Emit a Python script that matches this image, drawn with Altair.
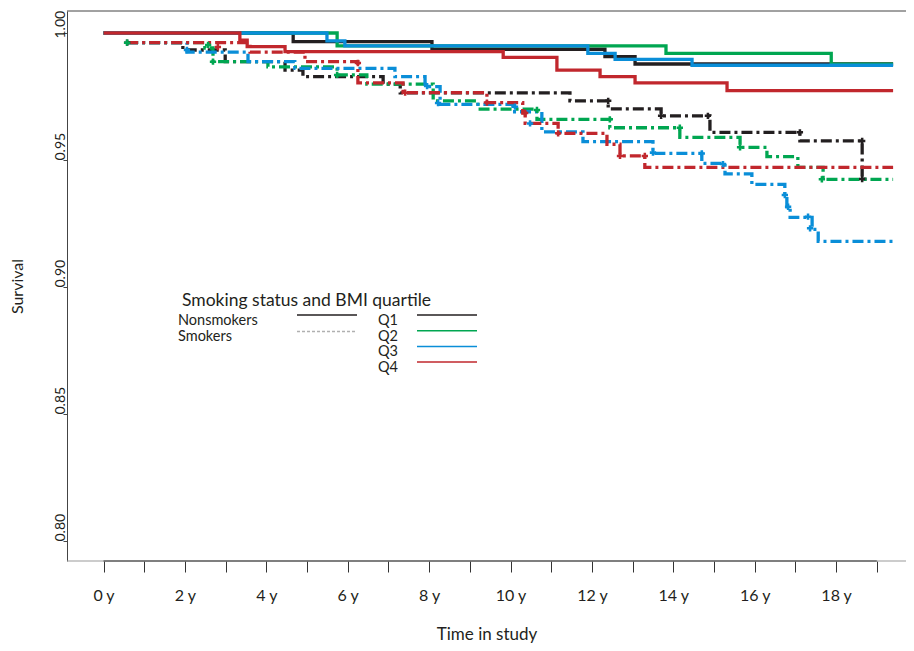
import altair as alt
import pandas as pd

# ---------------- data (time in years, survival probability) ----------------
# Nonsmokers (solid lines)
ns_q1_t = [0, 4.66, 8.07, 12.32, 13.06, 19.40]
ns_q1_s = [1.0, 0.9966, 0.9936, 0.9907, 0.9878, 0.9878]
ns_q2_t = [0, 5.74, 13.82, 17.88, 19.40]
ns_q2_s = [1.0, 0.9949, 0.9920, 0.9877, 0.9877]
ns_q3_t = [0, 5.49, 5.93, 11.90, 12.57, 14.46, 19.40]
ns_q3_s = [1.0, 0.9969, 0.9949, 0.9920, 0.9896, 0.9873, 0.9873]
ns_q4_t = [0, 3.35, 3.53, 4.46, 9.82, 11.14, 12.20, 13.06, 15.32, 19.40]
ns_q4_s = [1.0, 0.9972, 0.9946, 0.9927, 0.9904, 0.9854, 0.9828, 0.9804, 0.9773, 0.9773]

# Smokers (dash-dot lines)
sm_q1_t = [0.58, 1.95, 2.99, 4.46, 4.90, 6.87, 7.29, 11.46, 12.40, 13.70, 14.90, 17.11, 18.64, 18.75]
sm_q1_s = [0.9962, 0.9933, 0.9887, 0.9854, 0.9828, 0.9799, 0.9764, 0.9733, 0.9701, 0.9674, 0.9609, 0.9575, 0.9425, 0.9425]
sm_q2_t = [0.58, 2.49, 2.69, 4.04, 5.74, 6.47, 8.10, 9.20, 10.65, 12.44, 14.16, 15.64, 16.30, 17.06, 17.68, 19.40]
sm_q2_s = [0.9962, 0.9941, 0.9887, 0.9867, 0.9835, 0.9799, 0.9733, 0.9700, 0.9660, 0.9627, 0.9589, 0.9550, 0.9513, 0.9471, 0.9424, 0.9424]
sm_q3_t = [0.58, 2.05, 3.55, 4.70, 7.16, 7.90, 8.27, 10.06, 10.77, 11.78, 13.50, 14.70, 15.27, 15.93, 16.74, 16.79, 16.87, 17.41, 17.56, 19.40]
sm_q3_s = [0.9962, 0.9925, 0.9887, 0.9861, 0.9828, 0.9789, 0.9719, 0.9690, 0.9611, 0.9572, 0.9526, 0.9487, 0.9445, 0.9404, 0.9362, 0.9316, 0.9274, 0.9227, 0.9180, 0.9180]
sm_q4_t = [0.58, 3.60, 4.95, 6.25, 7.36, 9.42, 10.30, 10.36, 11.17, 12.37, 12.69, 13.30, 19.40]
sm_q4_s = [0.9962, 0.9925, 0.9887, 0.9804, 0.9765, 0.9726, 0.9685, 0.9644, 0.9605, 0.9562, 0.9516, 0.9471, 0.9471]

# Censoring marks on the smokers' curves
cm_q1_t = [0.58, 12.40, 13.70, 14.85, 17.11, 18.64, 18.64]
cm_q1_s = [0.9962, 0.9733, 0.9674, 0.9674, 0.9609, 0.9575, 0.9425]
cm_q2_t = [0.58, 2.57, 2.69, 5.74, 10.65, 12.44, 14.16, 15.64, 17.65]
cm_q2_s = [0.9962, 0.9953, 0.9887, 0.9835, 0.9697, 0.9660, 0.9627, 0.9550, 0.9424]
cm_q3_t = [2.05, 7.95, 8.22, 10.11, 10.48, 13.50, 14.70, 15.22, 16.74, 16.82, 17.31, 17.36]
cm_q3_s = [0.9933, 0.9791, 0.9724, 0.9710, 0.9644, 0.9529, 0.9526, 0.9484, 0.9362, 0.9316, 0.9277, 0.9231]
cm_q4_t = [2.81, 6.25, 7.41, 9.42, 10.36, 11.17, 12.69, 13.30]
cm_q4_s = [0.9945, 0.9882, 0.9765, 0.9726, 0.9685, 0.9605, 0.9516, 0.9516]

quartiles = ["Q1", "Q2", "Q3", "Q4"]
groups = ["Nonsmokers", "Smokers"]
legend_title = "Smoking status and BMI quartile"
x_tick_values = list(range(0, 20))
y_tick_values = [0.80, 0.85, 0.90, 0.95, 1.00]

# ---------------- styling ----------------
FONT = "Lato"
TXT = "#231f20"
COLORS = {"Q1": "#231f20", "Q2": "#00a651", "Q3": "#0a8ed8", "Q4": "#c1272d"}
DASH = [11, 4, 3, 4]
W, H = 839, 550

x_scale = alt.Scale(domain=[-0.897, 19.717], nice=False, zero=False)
y_scale = alt.Scale(domain=[0.79213, 1.00866], nice=False, zero=False)

x_axis = alt.Axis(
    values=x_tick_values,
    labelExpr="datum.value % 2 == 0 ? datum.value + ' y' : ''",
    tickSize=11, tickColor="#333333", domain=False, grid=False,
    labelFont=FONT, labelFontSize=16, labelColor=TXT,
    labelBaseline="middle", labelPadding=23, labelFlush=False, labelOverlap=False,
    title="Time in study", titleFont=FONT, titleFontSize=17, titleFontWeight="normal",
    titleColor=TXT, titleX=W / 2, titleY=73, titleAlign="center", titleBaseline="middle",
)
y_axis = alt.Axis(
    values=y_tick_values, format=".2f",
    labelAngle=270, labelAlign="left", labelBaseline="alphabetic", labelPadding=-1,
    labelOffset={"condition": {"test": "datum.value >= 0.999", "value": 5}, "value": 0},
    tickSize=4, tickColor="#444444", domainColor="#444444", grid=False,
    labelFont=FONT, labelFontSize=14, labelColor=TXT, labelOverlap=False, labelFlush=False,
    title="Survival", titleFont=FONT, titleFontSize=16, titleFontWeight="normal",
    titleColor=TXT, titleAngle=270, titleX=-50, titleY=H / 2,
    titleAlign="center", titleBaseline="middle",
)

x_enc = alt.X("t:Q", scale=x_scale, axis=x_axis)
y_enc = alt.Y("s:Q", scale=y_scale, axis=y_axis)

series = [
    ("Nonsmokers", "Q1", ns_q1_t, ns_q1_s),
    ("Nonsmokers", "Q2", ns_q2_t, ns_q2_s),
    ("Nonsmokers", "Q3", ns_q3_t, ns_q3_s),
    ("Nonsmokers", "Q4", ns_q4_t, ns_q4_s),
    ("Smokers", "Q1", sm_q1_t, sm_q1_s),
    ("Smokers", "Q2", sm_q2_t, sm_q2_s),
    ("Smokers", "Q3", sm_q3_t, sm_q3_s),
    ("Smokers", "Q4", sm_q4_t, sm_q4_s),
]
censor = [
    ("Q1", cm_q1_t, cm_q1_s),
    ("Q2", cm_q2_t, cm_q2_s),
    ("Q3", cm_q3_t, cm_q3_s),
    ("Q4", cm_q4_t, cm_q4_s),
]

layers = []
one = pd.DataFrame({"a": [0]})

# frame: top and bottom border
layers.append(alt.Chart(one).mark_rule(color="#444444", strokeWidth=1).encode(
    x=alt.value(0), x2=alt.value(W), y=alt.value(0)))
layers.append(alt.Chart(one).mark_rule(color="#999999", strokeWidth=1).encode(
    x=alt.value(0), x2=alt.value(W), y=alt.value(H)))
# x axis line from first to last tick
axis_df = pd.DataFrame({"t": [x_tick_values[0]], "t2": [x_tick_values[-1]]})
layers.append(alt.Chart(axis_df).mark_rule(color="#333333", strokeWidth=1.2).encode(
    x=x_enc, x2="t2:Q", y=alt.value(H)))

for grp, q, t, s in series:
    df = pd.DataFrame({"t": t, "s": s})
    kw = dict(interpolate="step-after", color=COLORS[q], strokeWidth=3.3)
    if grp == "Smokers":
        kw["strokeDash"] = DASH
    layers.append(alt.Chart(df).mark_line(**kw).encode(x=x_enc, y=y_enc))

for q, t, s in censor:
    df = pd.DataFrame({"t": t, "s": s})
    layers.append(alt.Chart(df).mark_point(shape="cross", filled=True, size=40,
                                           color=COLORS[q], opacity=1).encode(x=x_enc, y=y_enc))

# ---------------- legend ----------------
def txt(label, x, y, size):
    return alt.Chart(one).mark_text(align="left", baseline="alphabetic", font=FONT,
                                    fontSize=size, color=TXT).encode(
        x=alt.value(x), y=alt.value(y), text=alt.value(label))

def seg(x1, x2, y, color, dash=None, width=1.5):
    kw = dict(color=color, strokeWidth=width)
    if dash:
        kw["strokeDash"] = dash
    return alt.Chart(one).mark_rule(**kw).encode(x=alt.value(x1), x2=alt.value(x2), y=alt.value(y))

layers.append(txt(legend_title, 115, 295, 17.5))
layers.append(txt(groups[0], 111, 314, 14.5))
layers.append(txt(groups[1], 111, 329.5, 14.5))
layers.append(seg(230, 290, 304, "#231f20"))
layers.append(seg(230, 290, 320.5, "#b0b0b0", dash=[3, 2]))
for i, q in enumerate(quartiles):
    layers.append(txt(q, 311, 314 + 15.7 * i, 14.5))
    layers.append(seg(350, 410, 304 + 15.7 * i, COLORS[q]))

chart = alt.layer(*layers).properties(
    width=W, height=H,
    autosize=alt.AutoSizeParams(type="none"),
    padding={"left": 59, "top": 3, "right": 0, "bottom": 82},
).configure_view(stroke=None)

chart.save("out.html", embed_options={"renderer": "svg", "actions": False})
